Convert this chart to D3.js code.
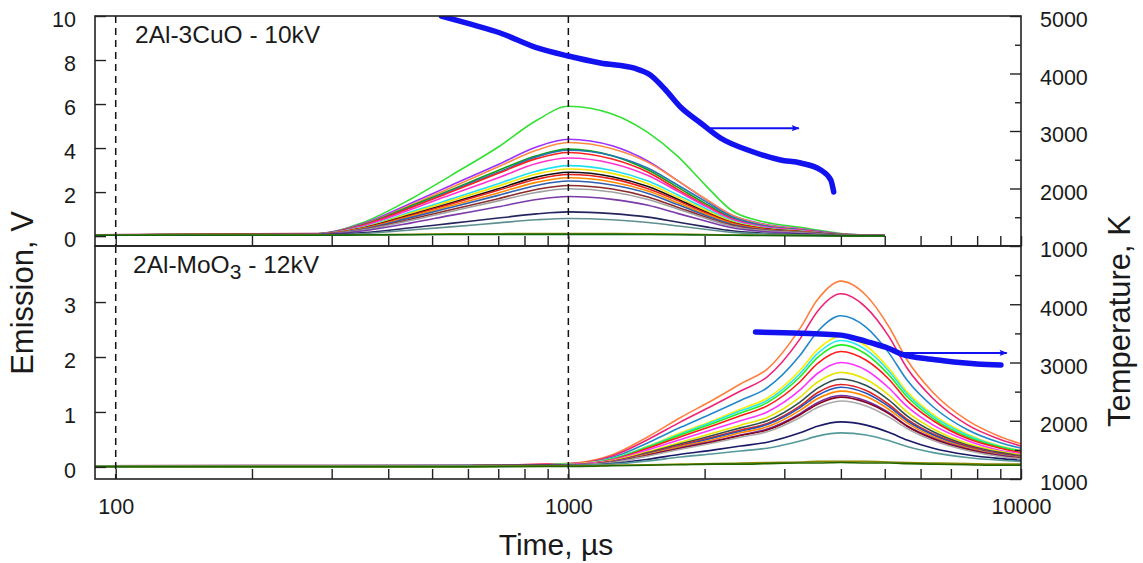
<!DOCTYPE html>
<html>
<head>
<meta charset="utf-8">
<script src="https://cdn.jsdelivr.net/npm/d3@7"></script>
<style>
  body { margin: 0; background: #fff; }
  svg text { font-family: "Liberation Sans", Arial, sans-serif; fill: #1a1a1a; }
</style>
</head>
<body>
<div id="app"></div>
<script>
// values (time in µs, emission in V, temperature in K)

// --- 2Al-3CuO, 10 kV ---
const cuoTime = [90, 280, 350, 450, 550, 700, 850, 1000, 1250, 1500, 1750, 2000, 2300, 2700, 3300, 4000, 5000];
const cuoEmission = [
  [0.06, 0.10, 0.60, 1.70, 2.75, 4.05, 5.25, 5.90, 5.55, 4.70, 3.60, 2.35, 1.15, 0.65, 0.38, 0.12, 0.02],
  [0.06, 0.12, 0.55, 1.50, 2.30, 3.25, 4.05, 4.40, 4.10, 3.40, 2.50, 1.70, 0.95, 0.55, 0.32, 0.10, 0.02],
  [0.06, 0.12, 0.52, 1.42, 2.20, 3.15, 3.90, 4.25, 3.97, 3.35, 2.50, 1.72, 0.95, 0.52, 0.30, 0.09, 0.02],
  [0.05, 0.11, 0.50, 1.38, 2.10, 2.98, 3.65, 3.95, 3.65, 3.00, 2.20, 1.50, 0.82, 0.45, 0.27, 0.08, 0.02],
  [0.05, 0.11, 0.48, 1.32, 2.05, 2.90, 3.60, 3.90, 3.65, 3.08, 2.30, 1.60, 0.88, 0.48, 0.28, 0.08, 0.02],
  [0.05, 0.10, 0.48, 1.30, 2.00, 2.85, 3.52, 3.80, 3.50, 2.90, 2.10, 1.42, 0.78, 0.42, 0.25, 0.07, 0.02],
  [0.05, 0.10, 0.45, 1.22, 1.88, 2.65, 3.30, 3.55, 3.30, 2.75, 2.02, 1.38, 0.76, 0.42, 0.25, 0.07, 0.02],
  [0.05, 0.10, 0.40, 1.10, 1.68, 2.38, 2.95, 3.20, 2.98, 2.50, 1.86, 1.28, 0.70, 0.38, 0.22, 0.06, 0.02],
  [0.05, 0.09, 0.38, 1.05, 1.60, 2.27, 2.82, 3.05, 2.85, 2.38, 1.76, 1.20, 0.66, 0.36, 0.21, 0.06, 0.02],
  [0.05, 0.09, 0.36, 0.98, 1.50, 2.15, 2.68, 2.90, 2.70, 2.25, 1.66, 1.12, 0.62, 0.34, 0.20, 0.06, 0.02],
  [0.05, 0.09, 0.35, 0.95, 1.46, 2.08, 2.58, 2.80, 2.60, 2.15, 1.60, 1.08, 0.60, 0.33, 0.19, 0.05, 0.02],
  [0.05, 0.08, 0.33, 0.90, 1.38, 1.96, 2.44, 2.65, 2.46, 2.05, 1.50, 1.02, 0.56, 0.30, 0.18, 0.05, 0.02],
  [0.05, 0.08, 0.31, 0.85, 1.30, 1.85, 2.30, 2.50, 2.32, 1.94, 1.42, 0.96, 0.53, 0.29, 0.17, 0.05, 0.02],
  [0.05, 0.08, 0.28, 0.78, 1.20, 1.70, 2.12, 2.30, 2.14, 1.78, 1.30, 0.88, 0.49, 0.27, 0.16, 0.05, 0.02],
  [0.05, 0.07, 0.27, 0.72, 1.12, 1.60, 1.98, 2.15, 2.00, 1.66, 1.22, 0.82, 0.45, 0.25, 0.15, 0.04, 0.02],
  [0.05, 0.07, 0.23, 0.60, 0.94, 1.33, 1.66, 1.80, 1.67, 1.40, 1.02, 0.70, 0.38, 0.21, 0.12, 0.04, 0.02],
  [0.04, 0.06, 0.15, 0.38, 0.58, 0.82, 1.01, 1.10, 1.02, 0.86, 0.63, 0.43, 0.24, 0.13, 0.08, 0.03, 0.01],
  [0.04, 0.05, 0.11, 0.28, 0.42, 0.60, 0.74, 0.80, 0.74, 0.62, 0.46, 0.31, 0.17, 0.10, 0.06, 0.02, 0.01],
  [0.05, 0.05, 0.06, 0.08, 0.10, 0.11, 0.12, 0.12, 0.12, 0.11, 0.09, 0.07, 0.05, 0.04, 0.03, 0.02, 0.01],
  [0.04, 0.04, 0.05, 0.06, 0.07, 0.08, 0.08, 0.08, 0.08, 0.07, 0.06, 0.05, 0.04, 0.03, 0.02, 0.01, 0.01]
];
const cuoColors = ['#33e033', '#9b30ff', '#ff8c40', '#10a010', '#1f78b4', '#ff2020', '#ff30d0', '#20e0f0', '#f5e400', '#111111',
                   '#e82020', '#ff8a00', '#3060b0', '#8b2a2a', '#a0a0a0', '#7a3aa8', '#24245e', '#5f9090', '#8a8a00', '#116611'];
const cuoTempTime = [524, 600, 707, 850, 1000, 1177, 1406, 1517, 1640, 1769, 1960, 2168, 2527, 2944, 3260, 3610, 3800, 3857];
const cuoTemp = [5000, 4870, 4704, 4450, 4304, 4183, 4087, 3974, 3713, 3417, 3139, 2878, 2652, 2496, 2443, 2322, 2148, 1939];
const cuoArrow = [2060, 3230, 3050];   // from, to (µs), level (K)

// --- 2Al-MoO3, 12 kV ---
const moTime = [90, 600, 900, 1060, 1250, 1500, 1770, 2100, 2400, 2750, 3250, 3550, 4000, 4550, 5100, 5600, 6400, 7600, 9000, 10000];
const moEmission = [
  [0.02, 0.03, 0.05, 0.08, 0.22, 0.55, 0.90, 1.23, 1.51, 1.78, 2.52, 3.04, 3.38, 3.12, 2.56, 1.95, 1.35, 0.85, 0.55, 0.42],
  [0.02, 0.03, 0.05, 0.07, 0.20, 0.50, 0.82, 1.13, 1.38, 1.64, 2.33, 2.83, 3.15, 2.90, 2.38, 1.80, 1.24, 0.77, 0.50, 0.38],
  [0.02, 0.03, 0.04, 0.06, 0.17, 0.44, 0.72, 0.99, 1.21, 1.44, 2.03, 2.46, 2.75, 2.54, 2.08, 1.58, 1.09, 0.68, 0.44, 0.34],
  [0.02, 0.02, 0.04, 0.06, 0.15, 0.38, 0.62, 0.85, 1.05, 1.25, 1.76, 2.13, 2.38, 2.20, 1.80, 1.37, 0.95, 0.60, 0.38, 0.30],
  [0.02, 0.02, 0.04, 0.05, 0.15, 0.37, 0.60, 0.83, 1.02, 1.21, 1.70, 2.06, 2.30, 2.13, 1.75, 1.33, 0.92, 0.58, 0.37, 0.29],
  [0.02, 0.02, 0.04, 0.05, 0.14, 0.36, 0.58, 0.80, 0.98, 1.17, 1.64, 1.99, 2.22, 2.05, 1.68, 1.28, 0.88, 0.55, 0.36, 0.28],
  [0.02, 0.02, 0.03, 0.05, 0.13, 0.34, 0.55, 0.76, 0.93, 1.11, 1.55, 1.88, 2.10, 1.94, 1.60, 1.21, 0.84, 0.52, 0.34, 0.26],
  [0.02, 0.02, 0.03, 0.05, 0.12, 0.31, 0.50, 0.69, 0.84, 1.00, 1.40, 1.70, 1.90, 1.76, 1.44, 1.10, 0.76, 0.48, 0.30, 0.24],
  [0.02, 0.02, 0.03, 0.04, 0.11, 0.28, 0.45, 0.62, 0.76, 0.90, 1.27, 1.54, 1.72, 1.59, 1.31, 1.00, 0.69, 0.43, 0.28, 0.22],
  [0.02, 0.02, 0.03, 0.04, 0.10, 0.26, 0.42, 0.58, 0.71, 0.84, 1.18, 1.43, 1.60, 1.48, 1.22, 0.93, 0.64, 0.40, 0.26, 0.20],
  [0.02, 0.02, 0.03, 0.04, 0.10, 0.25, 0.40, 0.55, 0.67, 0.79, 1.11, 1.35, 1.50, 1.39, 1.14, 0.87, 0.60, 0.38, 0.24, 0.19],
  [0.02, 0.02, 0.03, 0.04, 0.09, 0.24, 0.38, 0.53, 0.65, 0.77, 1.08, 1.30, 1.45, 1.34, 1.10, 0.84, 0.58, 0.36, 0.23, 0.18],
  [0.02, 0.02, 0.03, 0.04, 0.09, 0.23, 0.37, 0.50, 0.62, 0.73, 1.03, 1.24, 1.38, 1.28, 1.05, 0.80, 0.55, 0.35, 0.22, 0.17],
  [0.02, 0.02, 0.03, 0.04, 0.09, 0.21, 0.35, 0.47, 0.58, 0.69, 0.97, 1.17, 1.30, 1.20, 0.99, 0.75, 0.52, 0.33, 0.21, 0.16],
  [0.02, 0.02, 0.03, 0.04, 0.08, 0.21, 0.34, 0.46, 0.57, 0.67, 0.95, 1.14, 1.27, 1.17, 0.97, 0.74, 0.51, 0.32, 0.20, 0.16],
  [0.02, 0.02, 0.03, 0.04, 0.08, 0.20, 0.32, 0.44, 0.54, 0.64, 0.90, 1.08, 1.20, 1.11, 0.91, 0.70, 0.48, 0.30, 0.19, 0.15],
  [0.02, 0.02, 0.03, 0.03, 0.06, 0.14, 0.23, 0.31, 0.38, 0.45, 0.62, 0.74, 0.82, 0.76, 0.63, 0.49, 0.34, 0.22, 0.15, 0.12],
  [0.02, 0.02, 0.02, 0.03, 0.05, 0.11, 0.18, 0.24, 0.29, 0.34, 0.47, 0.56, 0.62, 0.58, 0.48, 0.37, 0.26, 0.17, 0.12, 0.10],
  [0.01, 0.01, 0.02, 0.02, 0.03, 0.04, 0.05, 0.06, 0.07, 0.08, 0.09, 0.10, 0.10, 0.10, 0.09, 0.08, 0.07, 0.06, 0.05, 0.05],
  [0.00, 0.00, 0.01, 0.01, 0.02, 0.03, 0.04, 0.05, 0.05, 0.06, 0.07, 0.07, 0.08, 0.07, 0.07, 0.06, 0.05, 0.04, 0.03, 0.03]
];
const moColors = ['#ff7f40', '#ee2277', '#2288cc', '#ffee00', '#22e8f0', '#22ee22', '#ff1a1a', '#ff33ff', '#e6e600', '#2f5050',
                  '#e02222', '#2255bb', '#ff8800', '#7030a0', '#880022', '#aaaaaa', '#1a1a66', '#559999', '#888800', '#226600'];
const moTempTime = [2592, 3000, 3610, 4000, 4272, 4650, 5079, 5510, 6010, 6545, 7110, 8000, 9030];
const moTemp = [3524, 3510, 3489, 3470, 3421, 3340, 3249, 3129, 3077, 3043, 3009, 2975, 2957];
const moArrow = [5500, 9300, 3165];

const timeTicks = [100, 200, 300, 400, 500, 600, 700, 800, 900, 1000, 2000, 3000, 4000, 5000, 6000, 7000, 8000, 9000, 10000];
const markers = [100, 1000];

const app = document.getElementById('app');
const W = 1143, H = 563;
const left = 95, right = 1021;
const BLUE = '#1212f0';

const svg = d3.select(app).append('svg').attr('width', W).attr('height', H);

svg.append('defs').append('marker')
   .attr('id', 'head').attr('viewBox', '0 0 10 10')
   .attr('refX', 9).attr('refY', 5)
   .attr('markerWidth', 5).attr('markerHeight', 4)
   .attr('markerUnits', 'strokeWidth')
   .attr('orient', 'auto')
   .append('path').attr('d', 'M0,1 L10,5 L0,9 L2,5 Z').attr('fill', BLUE);

const x = d3.scaleLog().domain([90, 10000]).range([left, right]);

const panels = [
  {id: 'cuo', top: 16, bottom: 246, emDomain: [-0.45, 10], emTicks: [0, 2, 4, 6, 8, 10],
   tempTicks: [1000, 2000, 3000, 4000, 5000], time: cuoTime, curves: cuoEmission, colors: cuoColors,
   tTime: cuoTempTime, temp: cuoTemp, arrow: cuoArrow, showTime: false},
  {id: 'mo', top: 246, bottom: 479, emDomain: [-0.22, 4.02], emTicks: [0, 1, 2, 3],
   tempTicks: [1000, 2000, 3000, 4000], time: moTime, curves: moEmission, colors: moColors,
   tTime: moTempTime, temp: moTemp, arrow: moArrow, showTime: true}
];

panels.forEach(p => {
  const y = d3.scaleLinear().domain(p.emDomain).range([p.bottom, p.top]);
  const yT = d3.scaleLinear().domain([1000, 5000]).range([p.bottom, p.top]);
  const g = svg.append('g');

  g.append('clipPath').attr('id', 'clip-' + p.id)
   .append('rect').attr('x', left).attr('y', p.top).attr('width', right - left).attr('height', p.bottom - p.top);

  const plot = g.append('g').attr('clip-path', 'url(#clip-' + p.id + ')');

  const line = d3.line()
                 .x((d, i) => x(p.time[i]))
                 .y(d => y(d))
                 .curve(d3.curveMonotoneX);

  plot.selectAll('path.em')
      .data(p.curves).enter()
      .append('path').classed('em', true)
      .attr('d', line)
      .attr('fill', 'none')
      .attr('stroke', (d, i) => p.colors[i])
      .attr('stroke-width', 1.6);

  // dashed markers
  plot.selectAll('line.mark')
      .data(markers).enter()
      .append('line').classed('mark', true)
      .attr('x1', d => x(d)).attr('x2', d => x(d))
      .attr('y1', p.top).attr('y2', p.bottom)
      .attr('stroke', '#111').attr('stroke-width', 1.5)
      .attr('stroke-dasharray', '7,5');

  const tLine = d3.line()
                  .x((d, i) => x(p.tTime[i]))
                  .y(d => yT(d))
                  .curve(d3.curveMonotoneX);
  plot.append('path')
      .attr('d', tLine(p.temp))
      .attr('fill', 'none').attr('stroke', BLUE)
      .attr('stroke-width', 5.5).attr('stroke-linecap', 'round');

  plot.append('line')
      .attr('x1', x(p.arrow[0])).attr('x2', x(p.arrow[1]))
      .attr('y1', yT(p.arrow[2])).attr('y2', yT(p.arrow[2]))
      .attr('stroke', BLUE).attr('stroke-width', 2)
      .attr('marker-end', 'url(#head)');

  // axes
  const axL = d3.axisLeft(y).tickValues(p.emTicks).tickSize(-11).tickPadding(19).tickFormat(d3.format('d'));
  g.append('g').attr('transform', `translate(${left},0)`).call(axL);

  const minorT = d3.range(1500, 5000, 1000);
  const axRm = d3.axisRight(yT).tickValues(minorT).tickSize(-6).tickFormat('');
  g.append('g').attr('transform', `translate(${right},0)`).call(axRm);
  const axR = d3.axisRight(yT).tickValues(p.tempTicks).tickSize(-11).tickPadding(19).tickFormat(d3.format('d'));
  g.append('g').attr('transform', `translate(${right},0)`).call(axR);

  const axB = d3.axisBottom(x).tickValues(timeTicks).tickSize(-10).tickPadding(20)
                .tickFormat(d => (p.showTime && [100, 1000, 10000].includes(d)) ? d : '');
  g.append('g').attr('transform', `translate(0,${p.bottom})`).call(axB);

  g.selectAll('.domain').remove();
  g.selectAll('.tick line').attr('stroke', '#222').attr('stroke-width', 1.4);
  g.selectAll('.tick text').attr('font-size', 21.5).attr('fill', '#1a1a1a')
   .style('font-family', '"Liberation Sans", Arial, sans-serif');
  g.selectAll('g.tick text').filter(function () { return this.parentNode.parentNode.getAttribute('text-anchor') !== 'middle'; })
   .attr('dy', '0.5em');

  g.append('rect')
   .attr('x', left).attr('y', p.top).attr('width', right - left).attr('height', p.bottom - p.top)
   .attr('fill', 'none').attr('stroke', '#222').attr('stroke-width', 1.6);
});

// panel labels
svg.append('text').attr('x', 135).attr('y', 43).attr('font-size', 24.5).text('2Al-3CuO - 10kV');
const lab2 = svg.append('text').attr('x', 133).attr('y', 273).attr('font-size', 24.5);
lab2.append('tspan').text('2Al-MoO');
lab2.append('tspan').attr('dy', 6).attr('font-size', 21).text('3');
lab2.append('tspan').attr('dy', -6).text(' - 12kV');

// axis titles
svg.append('text').attr('transform', 'translate(33,293) rotate(-90)')
   .attr('text-anchor', 'middle').attr('font-size', 31).text('Emission, V');
svg.append('text').attr('transform', 'translate(1130,321) rotate(-90)')
   .attr('text-anchor', 'middle').attr('font-size', 31).text('Temperature, K');
svg.append('text').attr('x', 556).attr('y', 555)
   .attr('text-anchor', 'middle').attr('font-size', 30).text('Time, µs');
</script>
</body>
</html>
